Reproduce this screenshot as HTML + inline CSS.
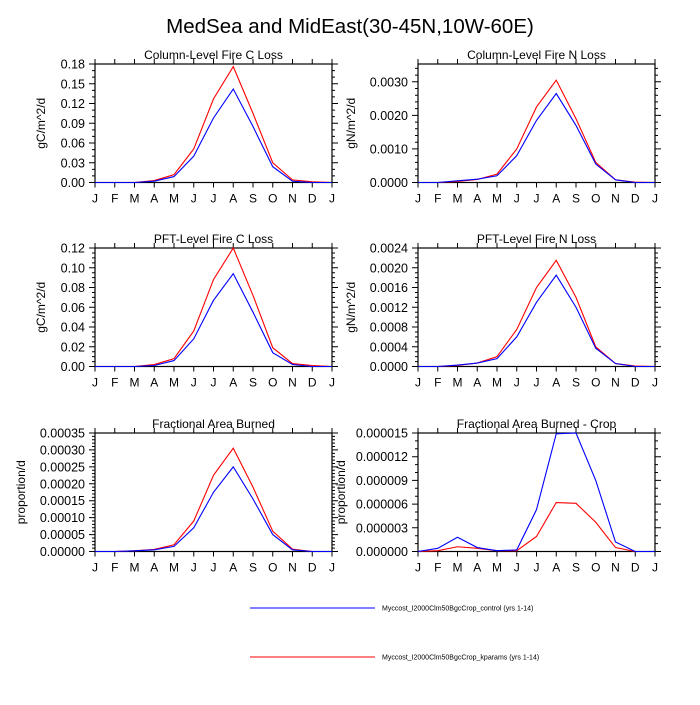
<!DOCTYPE html>
<html><head><meta charset="utf-8"><style>
body{margin:0;background:#fff}
svg text{font-family:"Liberation Sans",sans-serif;fill:#000}
</style></head><body>
<svg id="s" width="700" height="700" xmlns="http://www.w3.org/2000/svg">
<rect width="700" height="700" fill="#fff"/>
<text x="350" y="33" font-size="20.5" text-anchor="middle">MedSea and MidEast(30-45N,10W-60E)</text>
<line x1="250" y1="608" x2="375" y2="608" stroke="#00f" stroke-width="1"/>
<text x="382" y="610.5" font-size="7">Myccost_I2000Clm50BgcCrop_control (yrs 1-14)</text>
<line x1="250" y1="657" x2="375" y2="657" stroke="#f00" stroke-width="1"/>
<text x="382" y="659.5" font-size="7">Myccost_I2000Clm50BgcCrop_kparams (yrs 1-14)</text>
</svg>
<script>
const S=document.getElementById('s');const NS='http://www.w3.org/2000/svg';
function el(t,a,txt){const e=document.createElementNS(NS,t);for(const k in a)e.setAttribute(k,a[k]);if(txt!==undefined)e.textContent=txt;S.appendChild(e);return e;}
const P=[
{x:95,y:64,lx:45,t:"Column-Level Fire C Loss",yl:"gC/m^2/d",max:0.18,step:0.03,dec:2,minor:3,
b:[0,0,0,0.002,0.009,0.04,0.098,0.142,0.085,0.024,0.002,0,0],
r:[0,0,0,0.003,0.012,0.051,0.127,0.176,0.105,0.03,0.004,0.001,0]},
{x:418,y:64,lx:355,t:"Column-Level Fire N Loss",yl:"gN/m^2/d",max:0.00353,step:0.001,dec:4,minor:5,
b:[0,0,0.00005,0.0001,0.0002,0.0008,0.00185,0.00265,0.0017,0.00055,0.00008,0,0],
r:[0,0,0.00003,0.00009,0.00025,0.001,0.00225,0.00305,0.0019,0.0006,0.00008,0.00001,0]},
{x:95,y:248,lx:45,t:"PFT-Level Fire C Loss",yl:"gC/m^2/d",max:0.12,step:0.02,dec:2,minor:4,
b:[0,0,0,0.001,0.006,0.028,0.067,0.094,0.055,0.014,0.002,0,0],
r:[0,0,0,0.002,0.008,0.036,0.088,0.12,0.072,0.019,0.003,0.001,0]},
{x:418,y:248,lx:355,t:"PFT-Level Fire N Loss",yl:"gN/m^2/d",max:0.0024,step:0.0004,dec:4,minor:4,
b:[0,0,0.00003,0.00007,0.00016,0.0006,0.0013,0.00185,0.0012,0.00037,0.00006,0,0],
r:[0,0,0.00002,0.00007,0.0002,0.00075,0.0016,0.00215,0.0014,0.0004,0.00006,0.00001,0]},
{x:95,y:433,lx:25,t:"Fractional Area Burned",yl:"proportion/d",max:0.00035,step:0.00005,dec:5,minor:5,
b:[0,0,0.000002,0.000005,0.000015,0.00007,0.000175,0.00025,0.000155,0.00005,0.000005,0,0],
r:[0,0,0.000002,0.000006,0.00002,0.00009,0.000225,0.000305,0.00019,0.00006,0.000007,0,0]},
{x:418,y:433,lx:345,t:"Fractional Area Burned - Crop",yl:"proportion/d",max:0.000015,step:0.000003,dec:6,minor:3,
b:[0,0.0000004,0.0000018,0.0000005,0.0000001,0.0000002,0.0000053,0.0000149,0.000015,0.000009,0.0000012,0,0],
r:[0,0.0000001,0.0000006,0.0000004,0.0000001,0.0000001,0.0000019,0.0000062,0.0000061,0.0000037,0.0000005,0,0]}];
const W=237,H=118.5,M="JFMAMJJASONDJ";
P.forEach(p=>{
const X=i=>p.x+i*W/12,Y=v=>p.y+H-v/p.max*H;
el('text',{x:p.x+W/2,y:p.y-5,'font-size':12,'text-anchor':'middle'},p.t);
let d='';
for(let i=0;i<=12;i++){const x=X(i);d+=`M${x} ${p.y}v-5M${x} ${p.y+H}v5`;
el('text',{x:x,y:p.y+H+20,'font-size':12,'text-anchor':'middle'},M[i]);}
const n=Math.floor(p.max/p.step+1e-6);
for(let k=0;k<=n;k++){const v=k*p.step,y=Y(v);d+=`M${p.x} ${y}h-6M${p.x+W} ${y}h6`;
el('text',{x:p.x-10,y:y+4.5,'font-size':12.5,'text-anchor':'end'},v.toFixed(p.dec));
for(let m=1;m<p.minor;m++){const vv=v+m*p.step/p.minor;if(vv>p.max)break;const yy=Y(vv);d+=`M${p.x} ${yy}h-3M${p.x+W} ${yy}h3`;}}
if(n*p.step<p.max){for(let m=1;m<p.minor;m++){const vv=n*p.step+m*p.step/p.minor;if(vv>p.max)break;const yy=Y(vv);d+=`M${p.x} ${yy}h-3M${p.x+W} ${yy}h3`;}}
el('path',{d:d,stroke:'#000','stroke-width':1,fill:'none'});
el('rect',{x:p.x,y:p.y,width:W,height:H,fill:'none',stroke:'#000','stroke-width':1.2});
const lx=p.lx,ly=p.y+H/2;
el('text',{x:lx,y:ly,'font-size':12,'text-anchor':'middle',transform:`rotate(-90 ${lx} ${ly})`},p.yl);
['r','b'].forEach(c=>{el('polyline',{points:p[c].map((v,i)=>X(i)+','+Y(v)).join(' '),fill:'none',stroke:c=='r'?'#f00':'#00f','stroke-width':1.1});});
});
</script>
</body></html>
